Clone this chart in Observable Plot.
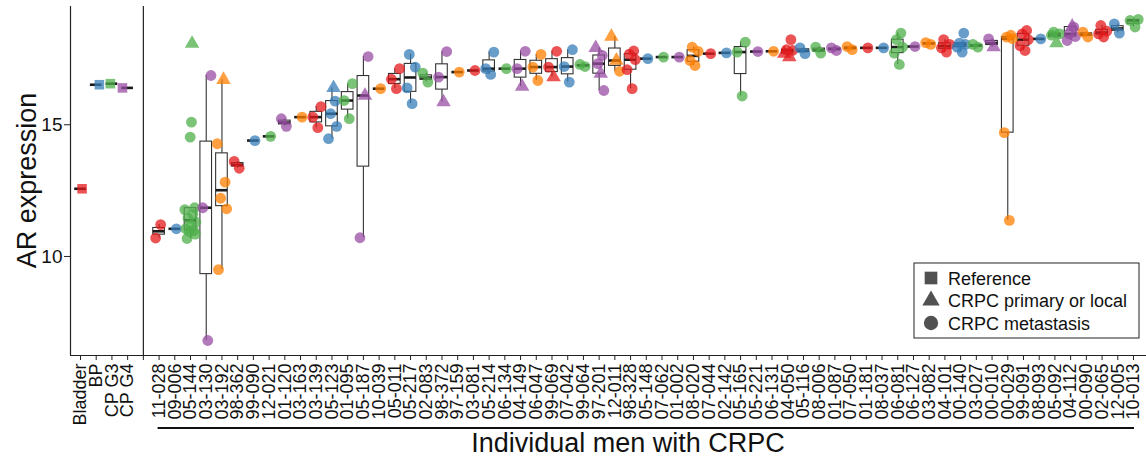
<!DOCTYPE html>
<html>
<head>
<meta charset="utf-8">
<script src="https://cdn.jsdelivr.net/npm/d3@7"></script>
<script src="https://cdn.jsdelivr.net/npm/@observablehq/plot@0.6"></script>
<style>
  body { margin: 0; background: #fff; }
  #chart svg { font-family: "Liberation Sans", Arial, sans-serif; }
</style>
</head>
<body>
<div id="chart"></div>
<script>
// ---- data -------------------------------------------------------------
const referenceGroups = ["Bladder", "BP", "CP G3", "CP G4"];
const referenceValues = [12.57, 16.52, 16.56, 16.40];

const patients = [
  "11-028","09-006","05-144","03-130","03-192","98-362","99-090","12-021","01-120","03-163",
  "03-139","05-123","01-095","05-187","10-039","05-011","05-217","02-083","98-372","97-159",
  "03-081","05-214","06-134","04-149","06-047","99-069","07-042","99-064","97-201","12-011",
  "98-328","05-148","07-062","01-002","08-020","07-044","02-142","05-165","05-221","06-131",
  "04-050","05-116","08-006","01-087","07-050","01-181","08-037","06-081","06-127","03-082",
  "04-101","00-140","03-027","00-010","00-029","99-091","08-093","05-092","04-112","00-090",
  "02-065","12-005","10-013"
];

// AR expression of CRPC metastases, one list per man
const metastasisValues = [
  [11.21, 10.70], [11.05],
  [10.68, 10.85, 10.95, 10.98, 11.05, 11.20, 11.30, 11.45, 11.60, 11.78, 11.85, 14.53, 15.10],
  [6.81, 11.85, 16.87], [9.50, 11.81, 12.21, 12.82, 14.28], [13.35, 13.61], [14.40], [14.56],
  [14.94, 15.23], [15.29], [14.89, 15.29, 15.69], [14.47, 14.94, 15.42, 15.90],
  [15.23, 15.92, 16.56], [10.71, 17.59], [16.37], [16.37, 16.73, 17.13],
  [15.80, 16.40, 17.19, 17.67], [16.62, 16.96], [16.81, 17.78], [17.00], [17.06],
  [16.91, 17.13, 17.76], [17.13], [17.13, 17.79], [16.68, 17.19, 17.67], [17.19, 17.79],
  [16.62, 17.21, 17.85], [17.21, 17.29], [16.30, 17.32, 17.63], [17.03],
  [16.37, 17.09, 17.47, 17.68, 17.80], [17.51], [17.57], [17.57], [17.25, 17.44, 17.79, 17.95],
  [17.70], [17.73], [16.09, 17.76, 18.14], [17.78], [17.79], [17.82, 17.85, 18.23],
  [17.70, 17.92], [17.72, 17.95], [17.82, 17.92], [17.85, 17.97], [17.92], [17.92],
  [17.29, 17.72, 17.95, 18.23, 18.48], [17.97], [18.05, 18.12], [17.76, 17.92, 18.05, 18.23],
  [17.76, 17.95, 18.05, 18.10, 18.48], [17.95, 18.05], [18.26],
  [11.37, 14.70, 18.27, 18.33, 18.40], [17.82, 18.00, 18.23, 18.45, 18.58], [18.26],
  [18.40, 18.45, 18.52], [18.20, 18.35, 18.45, 18.71], [18.33, 18.52],
  [18.33, 18.45, 18.55, 18.77], [18.48, 18.83], [18.71, 18.96, 19.00]
];

// AR expression of CRPC primary or local samples, one list per man
const primaryLocalValues = [
  [], [], [18.08], [], [16.71], [], [], [], [], [],
  [], [16.40], [], [16.11], [], [], [], [], [15.86], [],
  [], [], [], [16.45], [], [16.81], [], [], [16.94, 17.92], [17.44, 18.35],
  [], [], [], [], [], [], [], [], [], [],
  [17.57, 17.70], [], [], [], [], [], [], [], [], [],
  [], [], [], [17.95], [], [], [], [18.10], [18.73], [],
  [], [], []
];

const yTicks = [10, 15];
const sampleKinds = ["Reference", "CRPC primary or local", "CRPC metastasis"];
const yTitle = "AR expression";
const xTitle = "Individual men with CRPC";

// ---- styling / layout ---------------------------------------------------
const palette = ["#E41A1C", "#377EB8", "#4DAF4A", "#984EA3", "#FF7F00"];
const kindSymbols = ["square", "triangle", "circle"];
const referenceJitter = [0.1, 0.2, -0.1, -0.33];
const jitter = [0.1, -0.22, 0.3, -0.08, 0.2, -0.3, 0.0, 0.34, -0.16, 0.14, -0.36, 0.26, -0.02, 0.06];

const W = 1146, H = 461;
const mLeft = 70, mTop = 6, mBottom = 106;
const firstTickPx = 80, lastTickPx = 1133;
const dividerSlot = referenceGroups.length;           // empty slot holding the panel divider
const firstPatientSlot = dividerSlot + 1;
const lastSlot = firstPatientSlot + patients.length - 1;
const step = (lastTickPx - firstTickPx) / lastSlot;
const xDomain = [-(firstTickPx - mLeft) / step, lastSlot + (W - lastTickPx) / step];
const yDomain = [6.24, 19.49];
const boxHalf = 0.37;

// ---- derived tables -------------------------------------------------------
const slotLabel = new Map();
referenceGroups.forEach((g, i) => slotLabel.set(i, g));
patients.forEach((p, i) => slotLabel.set(firstPatientSlot + i, p));
const tickSlots = d3.range(0, lastSlot + 1);

const points = [];
const groups = [];
referenceGroups.forEach((g, i) => {
  points.push({slot: i, xpos: i + referenceJitter[i], value: referenceValues[i],
               kind: sampleKinds[0], color: palette[i % 5]});
  groups.push({slot: i, values: [referenceValues[i]]});
});
patients.forEach((p, i) => {
  const slot = firstPatientSlot + i;
  const color = palette[i % 5];
  let k = 0;
  const all = [];
  primaryLocalValues[i].forEach(v => {
    points.push({slot, xpos: slot + jitter[k++ % jitter.length], value: v, kind: sampleKinds[1], color});
    all.push(v);
  });
  metastasisValues[i].forEach(v => {
    points.push({slot, xpos: slot + jitter[k++ % jitter.length], value: v, kind: sampleKinds[2], color});
    all.push(v);
  });
  groups.push({slot, values: all});
});

// box-plot statistics (Tukey whiskers)
const boxes = groups.map(g => {
  const v = g.values.slice().sort(d3.ascending);
  const q1 = d3.quantile(v, 0.25), med = d3.quantile(v, 0.5), q3 = d3.quantile(v, 0.75);
  const iqr = q3 - q1;
  const lo = d3.min(v.filter(d => d >= q1 - 1.5 * iqr));
  const hi = d3.max(v.filter(d => d <= q3 + 1.5 * iqr));
  return {slot: g.slot, q1, med, q3, lo, hi};
});

// ---- chart ----------------------------------------------------------------
const chart = Plot.plot({
  width: W,
  height: H,
  marginLeft: mLeft,
  marginRight: 0,
  marginTop: mTop,
  marginBottom: mBottom,
  style: {background: "#fff", color: "#111"},
  x: {domain: xDomain},
  y: {domain: yDomain},
  color: {type: "identity"},
  symbol: {domain: sampleKinds, range: kindSymbols},
  marks: [
    // whiskers
    Plot.ruleX(boxes, {x: "slot", y1: "lo", y2: "q1", stroke: "#333", strokeWidth: 1.1}),
    Plot.ruleX(boxes, {x: "slot", y1: "q3", y2: "hi", stroke: "#333", strokeWidth: 1.1}),
    // boxes
    Plot.rect(boxes, {x1: d => d.slot - boxHalf, x2: d => d.slot + boxHalf, y1: "q1", y2: "q3",
                      fill: "white", stroke: "#333", strokeWidth: 1.1}),
    // medians
    Plot.ruleY(boxes, {y: "med", x1: d => d.slot - boxHalf, x2: d => d.slot + boxHalf,
                       stroke: "#1a1a1a", strokeWidth: 2.6}),
    // samples
    Plot.dot(points, {x: "xpos", y: "value", symbol: "kind", fill: "color",
                      fillOpacity: 0.75, stroke: "none", r: 5.4}),
    // axis lines and panel divider
    Plot.ruleX([xDomain[0], dividerSlot], {stroke: "#222", strokeWidth: 1.2}),
    Plot.ruleY([yDomain[0]], {stroke: "#222", strokeWidth: 1.2}),
    Plot.axisY({ticks: yTicks, tickSize: 6, tickPadding: 2, fontSize: 19, label: null,
                stroke: "#222"}),
    Plot.axisX({ticks: tickSlots, tickFormat: s => slotLabel.get(s) ?? "", tickRotate: -90,
                tickSize: 5, tickPadding: 3, fontSize: 18, label: null, stroke: "#222"})
  ]
});

document.getElementById("chart").appendChild(chart);

// ---- titles, bracket and legend -------------------------------------------
const svg = d3.select(chart);
const xs = chart.scale("x");

svg.append("text")
  .attr("transform", `translate(36,${(mTop + H - mBottom) / 2}) rotate(-90)`)
  .attr("text-anchor", "middle")
  .attr("font-size", 27)
  .attr("fill", "#111")
  .text(yTitle);

svg.append("line")
  .attr("x1", xs.apply(firstPatientSlot) - 1).attr("x2", xs.apply(lastSlot) + 1)
  .attr("y1", 428).attr("y2", 428)
  .attr("stroke", "#111").attr("stroke-width", 2);

svg.append("text")
  .attr("x", 628).attr("y", 452)
  .attr("text-anchor", "middle")
  .attr("font-size", 27)
  .attr("fill", "#111")
  .text(xTitle);

const legend = svg.append("g").attr("transform", "translate(914,263)");
legend.append("rect")
  .attr("width", 225).attr("height", 75)
  .attr("fill", "white").attr("stroke", "#222").attr("stroke-width", 1);
const legendSymbols = [d3.symbolSquare, d3.symbolTriangle, d3.symbolCircle];
sampleKinds.forEach((k, i) => {
  const cy = 15 + i * 22.5;
  legend.append("path")
    .attr("d", d3.symbol(legendSymbols[i], i === 1 ? 130 : 160)())
    .attr("transform", `translate(17,${cy})`)
    .attr("fill", "#333").attr("fill-opacity", 0.85);
  legend.append("text")
    .attr("x", 34).attr("y", cy + 6.5)
    .attr("text-anchor", "start")
    .attr("font-size", 18)
    .attr("fill", "#111")
    .text(k);
});
</script>
</body>
</html>
